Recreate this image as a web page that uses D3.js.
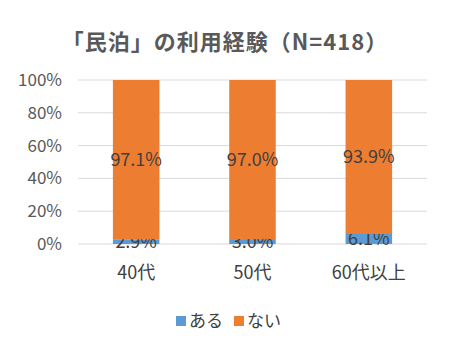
<!DOCTYPE html>
<html>
<head>
<meta charset="utf-8">
<script src="https://cdn.jsdelivr.net/npm/d3@7"></script>
<style>
  body { margin: 0; background: #fff; }
  text { font-family: "Noto Sans CJK JP", "Noto Sans", sans-serif; }
</style>
</head>
<body>
<svg id="chart"></svg>
<script>
var categories = ["40代", "50代", "60代以上"];
var aru = [2.9, 3.0, 6.1];
var nai = [97.1, 97.0, 93.9];
var seriesNames = ["ある", "ない"];
var yTicks = [0, 20, 40, 60, 80, 100];

var width = 449, height = 352;
var colors = ["#5b9bd5", "#ed7d31"];

var svg = d3.select("#chart").attr("width", width).attr("height", height);

svg.append("text")
    .attr("x", 225).attr("y", 50)
    .attr("text-anchor", "middle")
    .attr("font-size", 22).attr("font-weight", "bold")
    .attr("fill", "#595959")
    .attr("letter-spacing", 1)
    .text("「民泊」の利用経験（N=418）");

var x = d3.scaleBand().domain(categories).range([78, 427]).paddingInner(0.6).paddingOuter(0.3);
var y = d3.scaleLinear().domain([0, 100]).range([244, 80]);

// gridlines
svg.append("g")
    .selectAll("line")
    .data(yTicks)
    .enter().append("line")
    .attr("x1", 78).attr("x2", 427)
    .attr("y1", d => y(d)).attr("y2", d => y(d))
    .attr("stroke", "#d9d9d9").attr("stroke-width", 1);

// y tick labels
svg.append("g")
    .selectAll("text")
    .data(yTicks)
    .enter().append("text")
    .attr("x", 62).attr("y", d => y(d))
    .attr("dy", "0.35em")
    .attr("text-anchor", "end")
    .attr("font-size", 17).attr("fill", "#595959")
    .text(d => d + "%");

var rows = categories.map((c, i) => ({cat: c, vals: [aru[i], nai[i]]}));
var stack = d3.stack().keys([0, 1]).value((d, k) => d.vals[k]);
var layers = stack(rows);

var g = svg.append("g");
layers.forEach((layer, k) => {
    g.selectAll(".bar" + k)
        .data(layer)
        .enter().append("rect")
        .attr("x", d => x(d.data.cat))
        .attr("width", x.bandwidth())
        .attr("y", d => y(d[1]))
        .attr("height", d => y(d[0]) - y(d[1]))
        .attr("fill", colors[k]);
    g.selectAll(".lab" + k)
        .data(layer)
        .enter().append("text")
        .attr("x", d => x(d.data.cat) + x.bandwidth() / 2)
        .attr("y", d => y((d[0] + d[1]) / 2))
        .attr("dy", "0.35em")
        .attr("text-anchor", "middle")
        .attr("font-size", 18).attr("fill", "#404040")
        .text(d => d.data.vals[k].toFixed(1) + "%");
});

// category labels
svg.append("g")
    .selectAll("text")
    .data(categories)
    .enter().append("text")
    .attr("x", d => x(d) + x.bandwidth() / 2)
    .attr("y", 273)
    .attr("dy", "0.35em")
    .attr("text-anchor", "middle")
    .attr("font-size", 18).attr("fill", "#404040")
    .text(d => d);

// legend
var leg = svg.append("g");
var legX = [176, 234];
seriesNames.forEach((s, k) => {
    leg.append("rect")
        .attr("x", legX[k]).attr("y", 316)
        .attr("width", 10).attr("height", 10)
        .attr("fill", colors[k]);
    leg.append("text")
        .attr("x", legX[k] + 13).attr("y", 321)
        .attr("dy", "0.35em")
        .attr("font-size", 17).attr("fill", "#404040")
        .text(s);
});
</script>
</body>
</html>
